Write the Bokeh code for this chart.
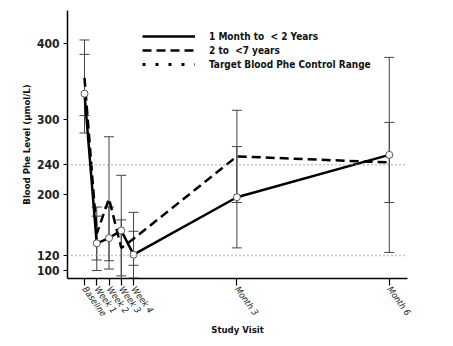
from bokeh.plotting import figure
from bokeh.models import (ColumnDataSource, Whisker, TeeHead, Span, FixedTicker,
                          Legend, LegendItem)
from bokeh.embed import file_html
from bokeh.resources import INLINE

# ---- data ----
visit_labels = ["Baseline", "Week 1", "Week 2", "Week 3", "Week 4", "Month 3", "Month 6"]
visit_day = [0, 7, 14, 21, 28, 87, 174]
young_mean = [334, 136, 143, 153, 121, 197, 253]     # 1 Month to < 2 Years
young_err = [52, 36, 41, 73, 31, 67, 129]
older_mean = [355, 149, 195, 130, 142, 251, 243]     # 2 to <7 years
older_err = [50, 35, 82, 37, 35, 61, 53]
target_low = 120
target_high = 240
y_ticks = [100, 120, 200, 240, 300, 400]

FONT = "DejaVu Sans Condensed"

young = ColumnDataSource(dict(
    x=visit_day, y=young_mean,
    lo=[m - e for m, e in zip(young_mean, young_err)],
    hi=[m + e for m, e in zip(young_mean, young_err)]))
older = ColumnDataSource(dict(
    x=visit_day, y=older_mean,
    lo=[m - e for m, e in zip(older_mean, older_err)],
    hi=[m + e for m, e in zip(older_mean, older_err)]))

p = figure(frame_width=340, frame_height=268,
           min_border_left=67, min_border_right=46,
           min_border_top=10, min_border_bottom=68,
           x_range=(-9.7, 184.4), y_range=(89.5, 444),
           output_backend="svg", toolbar_location=None,
           background_fill_color="white", border_fill_color="white")
p.outline_line_color = None
p.grid.visible = False

# target range lines
for v in (target_low, target_high):
    p.add_layout(Span(location=v, dimension="width", line_color="#8a8a8a",
                      line_dash="1 3", line_width=1.5))

# error bars
for src in (older, young):
    w = Whisker(source=src, base="x", lower="lo", upper="hi",
                line_color="#444444", line_width=1,
                upper_head=TeeHead(size=10, line_color="#444444", line_width=1),
                lower_head=TeeHead(size=10, line_color="#444444", line_width=1))
    p.add_layout(w)

r_old = p.line("x", "y", source=older, line_color="black", line_width=2.5,
               line_dash="9 5")
r_young = p.line("x", "y", source=young, line_color="black", line_width=2.5)
p.scatter("x", "y", source=young, size=7, marker="circle",
          fill_color="white", line_color="#555555", line_width=1)

# legend proxy for the target range (drawn outside the visible range)
r_target = p.line([-60, -50], [0, 0], line_color="black", line_width=3,
                  line_dash="3 10")

legend = Legend(items=[
    LegendItem(label="1 Month to  < 2 Years", renderers=[r_young]),
    LegendItem(label="2 to  <7 years", renderers=[r_old]),
    LegendItem(label="Target Blood Phe Control Range", renderers=[r_target]),
], location=(75, 208), glyph_width=53, glyph_height=12, label_height=12,
    spacing=2, padding=0, margin=0, label_standoff=14,
    border_line_color=None, background_fill_alpha=0,
    label_text_font=FONT, label_text_font_style="bold",
    label_text_font_size="10px", label_text_color="#111111")
p.add_layout(legend)

# axes
p.yaxis.ticker = FixedTicker(ticks=y_ticks)
p.yaxis.axis_label = "Blood Phe Level (\u00b5mol/L)"
p.xaxis.ticker = FixedTicker(ticks=visit_day)
p.xaxis.major_label_overrides = {d: l for d, l in zip(visit_day, visit_labels)}
p.xaxis.major_label_orientation = -0.95
p.xaxis.axis_label = "Study Visit"

for ax in (p.xaxis[0], p.yaxis[0]):
    ax.axis_line_color = "black"
    ax.axis_line_width = 1.5
    ax.major_tick_line_color = "black"
    ax.major_tick_line_width = 1.2
    ax.major_tick_in = 0
    ax.minor_tick_line_color = None
    ax.axis_label_text_font = FONT
    ax.axis_label_text_font_style = "bold"
    ax.axis_label_text_font_size = "9.5px"
    ax.axis_label_text_color = "#111111"
    ax.major_label_text_font = FONT
    ax.major_label_text_color = "#222222"

p.yaxis.major_tick_out = 4
p.yaxis.major_label_text_font_style = "bold"
p.yaxis.major_label_text_font_size = "12px"
p.yaxis.major_label_standoff = 4
p.yaxis.axis_label_standoff = 2
p.xaxis.major_tick_out = 7
p.xaxis.major_label_text_font_size = "9px"
p.xaxis.major_label_text_font_style = "italic"
p.xaxis.major_label_standoff = 2
p.xaxis.axis_label_standoff = 0

open("out.html", "w").write(file_html(p, INLINE))
